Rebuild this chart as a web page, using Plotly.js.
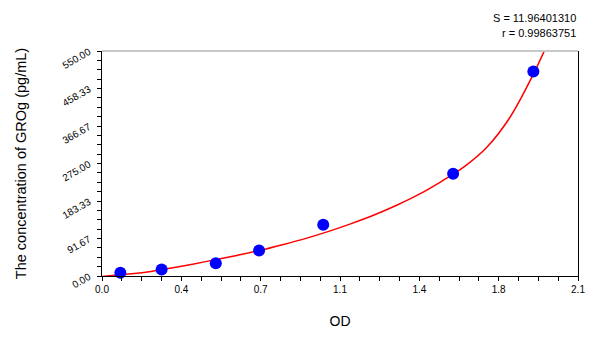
<!DOCTYPE html>
<html>
<head>
<meta charset="utf-8">
<script src="https://cdn.plot.ly/plotly-3.0.1.min.js"></script>
<style>html,body{margin:0;padding:0;background:#fff;}#chart{width:600px;height:337px;}</style>
</head>
<body>
<div id="chart"></div>
<script>
// Standard points (OD vs concentration)
const pointOD = [0.081, 0.263, 0.502, 0.693, 0.976, 1.549, 1.903];
const pointConc = [7.81, 15.63, 31.25, 62.5, 125, 250, 500];

// Fitted curve
const curveOD = [0.00, 0.10, 0.20, 0.30, 0.40, 0.50, 0.60, 0.70, 0.80, 0.90, 1.00, 1.10, 1.20, 1.30, 1.40, 1.50, 1.60, 1.70, 1.80, 1.90, 2.00];
const curveConc = [-1, 4, 10, 19, 29, 40, 51, 63, 77, 92, 109, 128, 149, 173, 200, 232, 268, 316, 388, 490, 610];

const xTickVals = [0, 0.35, 0.7, 1.05, 1.4, 1.75, 2.1];
const xTickText = ['0.0', '0.4', '0.7', '1.1', '1.4', '1.8', '2.1'];
const yTickVals = [0, 91.67, 183.33, 275, 366.67, 458.33, 550];
const yTickText = ['0.00', '91.67', '183.33', '275.00', '366.67', '458.33', '550.00'];

const statS = 'S = 11.96401310';
const statR = 'r = 0.99863751';

const traces = [
  {x: curveOD, y: curveConc, mode: 'lines', type: 'scatter',
   line: {color: '#ff0000', width: 1.5, shape: 'spline'}, hoverinfo: 'skip'},
  {x: pointOD, y: pointConc, mode: 'markers', type: 'scatter',
   marker: {color: '#0000ff', size: 12}, cliponaxis: false}
];

const layout = {
  width: 600, height: 337,
  margin: {l: 102, r: 22, t: 51, b: 61},
  paper_bgcolor: '#fff', plot_bgcolor: '#fff',
  showlegend: false,
  font: {family: 'Liberation Sans, Arial, sans-serif', color: '#000'},
  xaxis: {
    range: [0, 2.1], showgrid: false, zeroline: false,
    showline: true, linecolor: '#000', linewidth: 1,
    tickmode: 'array', tickvals: xTickVals, ticktext: xTickText,
    ticks: 'outside', ticklen: 4, tickcolor: '#000',
    minor: {dtick: 0.0875, tick0: 0, ticks: 'outside', ticklen: 4, tickcolor: '#000'},
    tickfont: {size: 10},
    title: {text: 'OD', font: {size: 14}, standoff: 22}
  },
  yaxis: {
    range: [0, 550], showgrid: false, zeroline: false,
    showline: true, linecolor: '#000', linewidth: 1, mirror: true,
    tickmode: 'array', tickvals: yTickVals, ticktext: yTickText,
    ticks: 'outside', ticklen: 4, tickcolor: '#000',
    minor: {dtick: 22.9167, tick0: 0, ticks: 'outside', ticklen: 4, tickcolor: '#000'},
    tickfont: {size: 10}, tickangle: -30, ticklabelstandoff: 6,
    title: {text: 'The concentration of GROg (pg/mL)', font: {size: 14.5}, standoff: 30}
  },
  shapes: [
    {type: 'line', xref: 'paper', yref: 'paper', x0: 0, x1: 1, y0: 1, y1: 1,
     line: {color: '#c8c8c8', width: 2}}
  ],
  annotations: [
    {text: statS, xref: 'paper', yref: 'paper', x: 1, y: 1, xanchor: 'right', yanchor: 'bottom',
     yshift: 25, showarrow: false, font: {size: 11}},
    {text: statR, xref: 'paper', yref: 'paper', x: 1, y: 1, xanchor: 'right', yanchor: 'bottom',
     yshift: 10, showarrow: false, font: {size: 11}}
  ]
};

Plotly.newPlot('chart', traces, layout, {displayModeBar: false, staticPlot: true});
</script>
</body>
</html>
